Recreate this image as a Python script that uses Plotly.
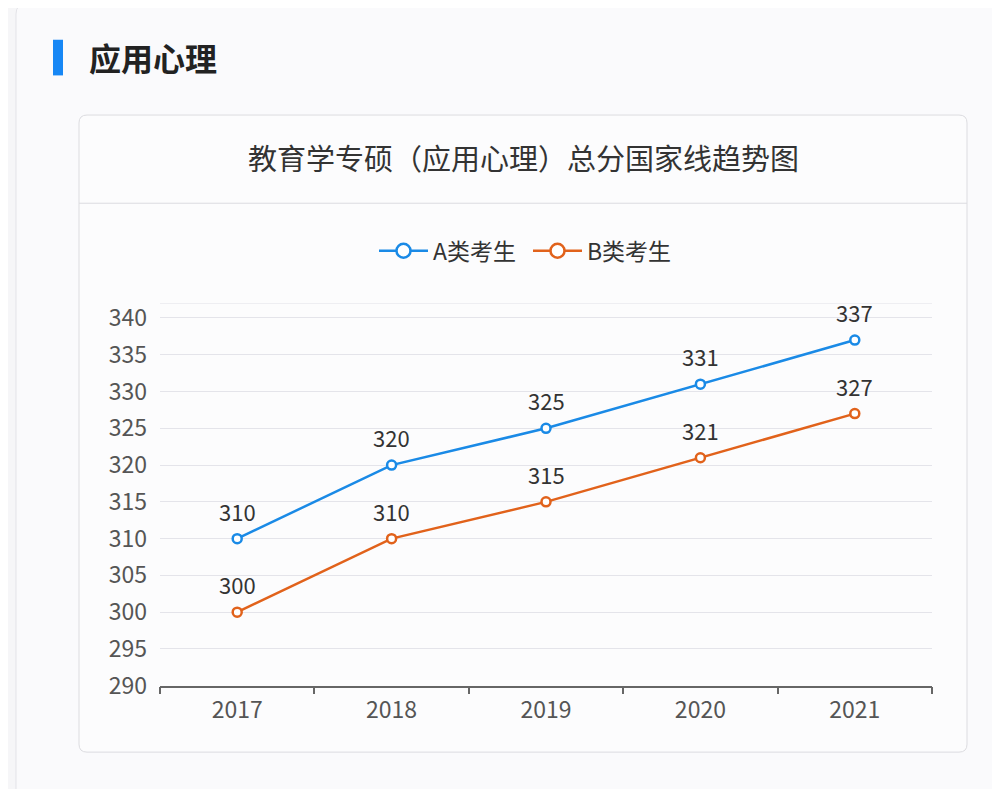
import plotly.graph_objects as go

years = ["2017", "2018", "2019", "2020", "2021"]
a_scores = [310, 320, 325, 331, 337]
b_scores = [300, 310, 315, 321, 327]
series_names = ["A类考生", "B类考生"]
y_ticks = [290, 295, 300, 305, 310, 315, 320, 325, 330, 335, 340]

W, H = 1000, 789
OFF = 8
SY = 0.985
FONT = "Noto Sans CJK SC"
BLUE = "#1a8ae6"
ORANGE = "#e1621b"


def px(x):
    return (x - OFF) / W


def py(y):
    return 1 - ((y - OFF) / SY) / H


def rounded_rect(x0, y0, x1, y1, r):
    return (
        f"M {px(x0 + r)},{py(y0)} L {px(x1 - r)},{py(y0)} "
        f"Q {px(x1)},{py(y0)} {px(x1)},{py(y0 + r)} "
        f"L {px(x1)},{py(y1 - r)} Q {px(x1)},{py(y1)} {px(x1 - r)},{py(y1)} "
        f"L {px(x0 + r)},{py(y1)} Q {px(x0)},{py(y1)} {px(x0)},{py(y1 - r)} "
        f"L {px(x0)},{py(y0 + r)} Q {px(x0)},{py(y0)} {px(x0 + r)},{py(y0)} Z"
    )


fig = go.Figure()
colors = [BLUE, ORANGE]
for name, vals, c in zip(series_names, [a_scores, b_scores], colors):
    fig.add_trace(go.Scatter(
        x=years, y=vals, name=name, mode="lines+markers", showlegend=False,
        line=dict(color=c, width=2.5),
        marker=dict(symbol="circle", size=9, color="white",
                    line=dict(color=c, width=2.5)),
        hoverinfo="skip",
    ))
    for i, yv in enumerate(vals):
        fig.add_annotation(x=i, y=yv, xref="x", yref="y", text=str(yv),
                           showarrow=False, yshift=28,
                           font=dict(family=FONT, size=22, color="#333333"))
    fig.add_trace(go.Scatter(
        x=[None], y=[None], name=name, mode="lines+markers",
        line=dict(color=c, width=2.5),
        marker=dict(symbol="circle", size=14, color="white",
                    line=dict(color=c, width=2.5)),
        hoverinfo="skip",
    ))

shapes = [
    dict(type="path", xref="paper", yref="paper", layer="below",
         path=rounded_rect(16, 0, 1030, 830, 10),
         fillcolor="#fafafc", line=dict(color="#e3e3e8", width=1)),
    dict(type="path", xref="paper", yref="paper", layer="below",
         path=rounded_rect(79, 112, 967, 755, 8),
         fillcolor="#fcfcfd", line=dict(color="#dcdce0", width=1)),
    dict(type="line", xref="paper", yref="paper", layer="below",
         x0=px(79), x1=px(967), y0=py(201), y1=py(201),
         line=dict(color="#dcdce0", width=1)),
    dict(type="rect", xref="paper", yref="paper", layer="below",
         x0=px(53), x1=px(63), y0=py(36), y1=py(72),
         fillcolor="#1787f5", line=dict(width=0)),
    dict(type="line", xref="paper", yref="y", layer="below",
         x0=px(160), x1=px(932), y0=342, y1=342,
         line=dict(color="#e4e4ea", width=1)),
]

fig.add_annotation(xref="paper", yref="paper", x=px(87), y=py(53),
                   xanchor="left", yanchor="middle", showarrow=False,
                   text="<b>应用心理</b>",
                   font=dict(family=FONT, size=32, color="#222222"))
fig.add_annotation(xref="paper", yref="paper", x=px(523), y=py(154),
                   xanchor="center", yanchor="middle", showarrow=False,
                   text="教育学专硕（应用心理）总分国家线趋势图",
                   font=dict(family=FONT, size=29, color="#333333"))

fig.update_layout(
    width=W, height=H,
    margin=dict(l=0, r=0, t=0, b=0),
    paper_bgcolor="#f6f6f8",
    plot_bgcolor="rgba(0,0,0,0)",
    shapes=shapes,
    showlegend=True,
    legend=dict(orientation="h", x=px(374), y=py(249), xanchor="left",
                yanchor="middle", font=dict(family=FONT, size=23, color="#333333"),
                bgcolor="rgba(0,0,0,0)", itemwidth=49, entrywidth=90),
    xaxis=dict(domain=[px(160), px(932)], type="category",
               range=[-0.5, 4.5], showgrid=False, zeroline=False,
               showline=True, linecolor="#666666", linewidth=1.5,
               ticks="outside", tickson="boundaries", ticklen=7,
               tickcolor="#666666", tickwidth=1.5, ticklabelstandoff=3,
               tickfont=dict(family=FONT, size=23, color="#555555")),
    yaxis=dict(domain=[py(688), py(302)], range=[290, 342],
               tickvals=y_ticks, showgrid=True, gridcolor="#e4e4ea",
               gridwidth=1, zeroline=False, showline=False,
               ticks="", ticklabelstandoff=12,
               tickfont=dict(family=FONT, size=23, color="#555555")),
    font=dict(family=FONT),
)

fig.write_html("out.html")
